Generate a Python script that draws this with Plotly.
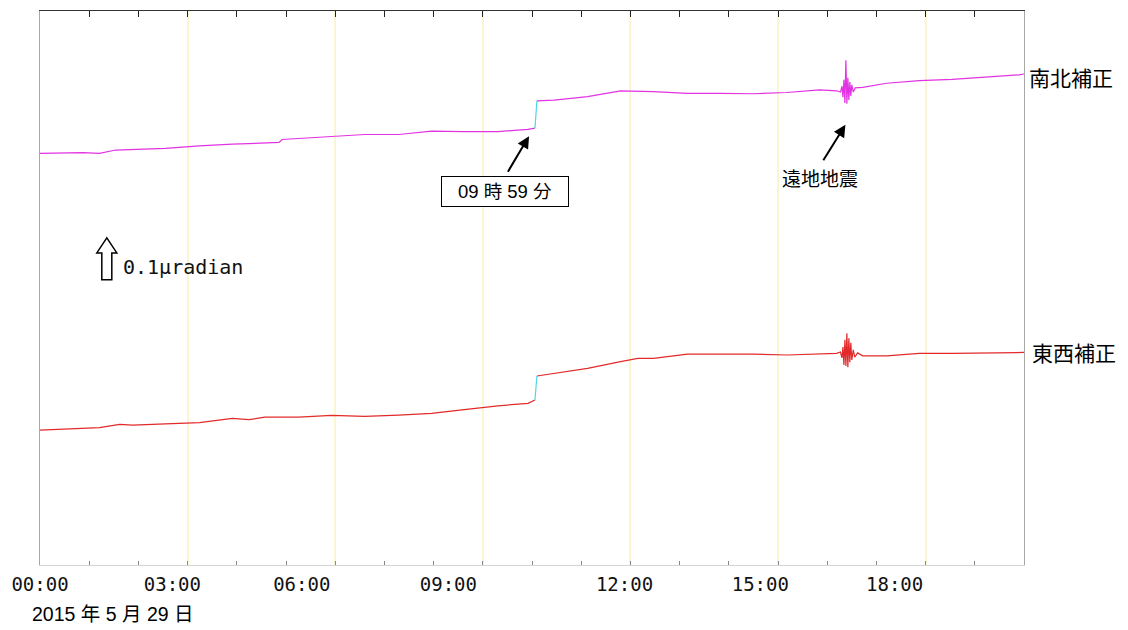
import plotly.graph_objects as go

# ---------------- data (hours since 00:00, tilt in micro-radian, arbitrary offset) -------------
ns_hours_before = [0, 0.87, 1.21, 1.54, 2.55, 3.24, 3.91, 4.86, 4.92, 5.93, 6.60, 7.29, 7.96, 8.62, 9.31, 9.92, 10.06]
ns_before = [0.980, 0.982, 0.980, 0.988, 0.992, 0.998, 1.002, 1.006, 1.013, 1.021, 1.025, 1.025, 1.033, 1.032, 1.032, 1.037, 1.040]
ns_hours_after = [10.10, 10.45, 11.13, 11.80, 12.47, 13.16, 13.83, 14.49, 15.18, 15.85, 16.19, 16.27, 16.30, 16.32,
                  16.34, 16.36, 16.38, 16.40, 16.42, 16.44, 16.46, 16.48, 16.50, 16.53, 16.57, 16.72, 17.21, 17.87,
                  18.54, 19.23, 19.90, 20.0]
ns_after = [1.105, 1.107, 1.115, 1.129, 1.127, 1.123, 1.123, 1.122, 1.125, 1.131, 1.129, 1.126, 1.140, 1.114,
            1.155, 1.100, 1.202, 1.098, 1.160, 1.107, 1.150, 1.117, 1.143, 1.126, 1.136, 1.137, 1.147, 1.153,
            1.156, 1.161, 1.167, 1.169]

ew_hours_before = [0, 0.53, 1.21, 1.62, 1.88, 2.55, 3.24, 3.91, 4.25, 4.57, 5.26, 5.93, 6.60, 7.29, 7.96, 8.62, 9.31, 9.92, 10.06]
ew_before = [0.321, 0.324, 0.327, 0.335, 0.333, 0.336, 0.339, 0.349, 0.346, 0.352, 0.352, 0.356, 0.354, 0.357, 0.361, 0.370, 0.379, 0.385, 0.393]
ew_hours_after = [10.10, 10.45, 11.13, 11.80, 12.15, 12.47, 13.16, 13.83, 14.49, 15.18, 15.85, 16.19, 16.27, 16.30,
                  16.32, 16.34, 16.36, 16.38, 16.40, 16.42, 16.44, 16.46, 16.48, 16.50, 16.53, 16.56, 16.62, 16.72,
                  17.21, 17.87, 18.54, 19.23, 19.90, 20.0]
ew_after = [0.450, 0.456, 0.468, 0.484, 0.492, 0.492, 0.502, 0.502, 0.502, 0.500, 0.502, 0.504, 0.507, 0.493,
            0.519, 0.476, 0.536, 0.474, 0.552, 0.471, 0.540, 0.483, 0.529, 0.488, 0.512, 0.495, 0.505, 0.498,
            0.498, 0.504, 0.504, 0.505, 0.506, 0.506]

tick_labels = ["00:00", "03:00", "06:00", "09:00", "12:00", "15:00", "18:00"]
series_names = ["南北補正", "東西補正"]
date_text = "2015 年 5 月 29 日"
step_text = "09 時 59 分"
quake_text = "遠地地震"
scale_text = "0.1μradian"
scale_value = 0.1

# ---------------- layout constants ----------------
W, H = 1128, 630
X_RANGE = [0, 20]
Y_RANGE = [0, 1.319]
LABEL_POS = [0, 2.69, 5.32, 8.30, 11.88, 14.64, 17.37]   # where the time labels sit in the picture
MAGENTA = "#e233e2"
RED = "#e22a2a"
CYAN = "#4fd6e6"
GRID = "#faf6d2"
MONO = "DejaVu Sans Mono"
JP = "Noto Sans CJK JP"

fig = go.Figure()

# north-south
fig.add_trace(go.Scatter(x=ns_hours_before, y=ns_before, mode="lines", line=dict(color=MAGENTA, width=1.2),
                         hoverinfo="skip", showlegend=False))
fig.add_trace(go.Scatter(x=[ns_hours_before[-1], ns_hours_after[0]], y=[ns_before[-1], ns_after[0]], mode="lines",
                         line=dict(color=CYAN, width=1.2), hoverinfo="skip", showlegend=False))
fig.add_trace(go.Scatter(x=ns_hours_after, y=ns_after, mode="lines", line=dict(color=MAGENTA, width=1.2),
                         hoverinfo="skip", showlegend=False))
# east-west
fig.add_trace(go.Scatter(x=ew_hours_before, y=ew_before, mode="lines", line=dict(color=RED, width=1.2),
                         hoverinfo="skip", showlegend=False))
fig.add_trace(go.Scatter(x=[ew_hours_before[-1], ew_hours_after[0]], y=[ew_before[-1], ew_after[0]], mode="lines",
                         line=dict(color=CYAN, width=1.2), hoverinfo="skip", showlegend=False))
fig.add_trace(go.Scatter(x=ew_hours_after, y=ew_after, mode="lines", line=dict(color=RED, width=1.2),
                         hoverinfo="skip", showlegend=False))
# invisible traces so overlay axes render
fig.add_trace(go.Scatter(x=X_RANGE, y=[None, None], xaxis="x2", mode="lines", hoverinfo="skip", showlegend=False))
fig.add_trace(go.Scatter(x=X_RANGE, y=[None, None], xaxis="x3", mode="lines", hoverinfo="skip", showlegend=False))

fig.update_layout(
    width=W, height=H,
    margin=dict(l=37, r=104, t=11, b=65),
    paper_bgcolor="white", plot_bgcolor="white",
    hovermode=False,
    xaxis=dict(range=X_RANGE, tickvals=[3, 6, 9, 12, 15, 18], showticklabels=False,
               ticks="inside", ticklen=4, tickcolor="#888", tickwidth=1,
               minor=dict(dtick=1, ticks="inside", ticklen=4, tickcolor="#888", showgrid=False),
               showgrid=True, gridcolor=GRID, gridwidth=1.5, zeroline=False,
               showline=True, linecolor="#d4d4d4", linewidth=1),
    xaxis2=dict(range=X_RANGE, overlaying="x", side="top", anchor="y", dtick=1, tick0=0,
                ticks="inside", ticklen=6, tickcolor="#222", tickwidth=1.3,
                showticklabels=False, showgrid=False, zeroline=False,
                showline=True, linecolor="#333", linewidth=1),
    xaxis3=dict(range=X_RANGE, overlaying="x", side="bottom", anchor="y",
                tickvals=LABEL_POS, ticktext=tick_labels, ticks="", ticklabelstandoff=6,
                tickfont=dict(family=MONO, size=19, color="#111"),
                showgrid=False, zeroline=False, showline=False),
    yaxis=dict(range=Y_RANGE, showticklabels=False, ticks="", showgrid=False, zeroline=False,
               showline=True, linecolor="#a8a8a8", linewidth=1, mirror=True),
)

# right-side series labels
fig.add_annotation(xref="paper", yref="y", x=1.003, y=1.162, xanchor="left", yanchor="middle",
                   text=series_names[0], showarrow=False, font=dict(family=JP, size=21, color="black"))
fig.add_annotation(xref="paper", yref="y", x=1.006, y=0.507, xanchor="left", yanchor="middle",
                   text=series_names[1], showarrow=False, font=dict(family=JP, size=21, color="black"))

# date
fig.add_annotation(xref="paper", yref="paper", x=-0.010, y=-0.0884, xanchor="left", yanchor="middle",
                   text=date_text, showarrow=False, font=dict(family="Liberation Sans, " + JP, size=19.5, color="black"))

# step annotation: arrow + boxed text
fig.add_annotation(xref="x", yref="y", x=9.94, y=1.021, ax=-22, ay=37, text="", showarrow=True,
                   arrowhead=2, arrowsize=1.2, arrowwidth=2, arrowcolor="black", standoff=0)
fig.add_annotation(xref="x", yref="y", x=9.46, y=0.890, text=step_text, showarrow=False,
                   font=dict(family="Liberation Sans, " + JP, size=18.5, color="black"),
                   bordercolor="black", borderwidth=1, bgcolor="white", borderpad=2, width=122, height=25)

# teleseism annotation
fig.add_annotation(xref="x", yref="y", x=16.37, y=1.048, ax=-23, ay=37, text="", showarrow=True,
                   arrowhead=2, arrowsize=1.2, arrowwidth=2, arrowcolor="black", standoff=0)
fig.add_annotation(xref="x", yref="y", x=15.85, y=0.923, text=quake_text, showarrow=False,
                   font=dict(family=JP, size=19, color="black"))

# scale arrow (hollow), height = 0.1 micro-radian on the y axis
sb_bottom = 0.679
sb_top = sb_bottom + scale_value
sb_head = sb_top - 0.036
path = (f"M 0,{sb_top} L -10,{sb_head} L -5,{sb_head} L -5,{sb_bottom} "
        f"L 5,{sb_bottom} L 5,{sb_head} L 10,{sb_head} Z")
fig.add_shape(type="path", xref="x", yref="y", xsizemode="pixel", xanchor=1.358, path=path,
              line=dict(color="black", width=1.5), fillcolor="white")
fig.add_annotation(xref="x", yref="y", x=1.64, y=0.710, xanchor="left", yanchor="middle",
                   text=scale_text, showarrow=False, font=dict(family=MONO, size=20, color="#111"))

fig.write_html("out.html")
